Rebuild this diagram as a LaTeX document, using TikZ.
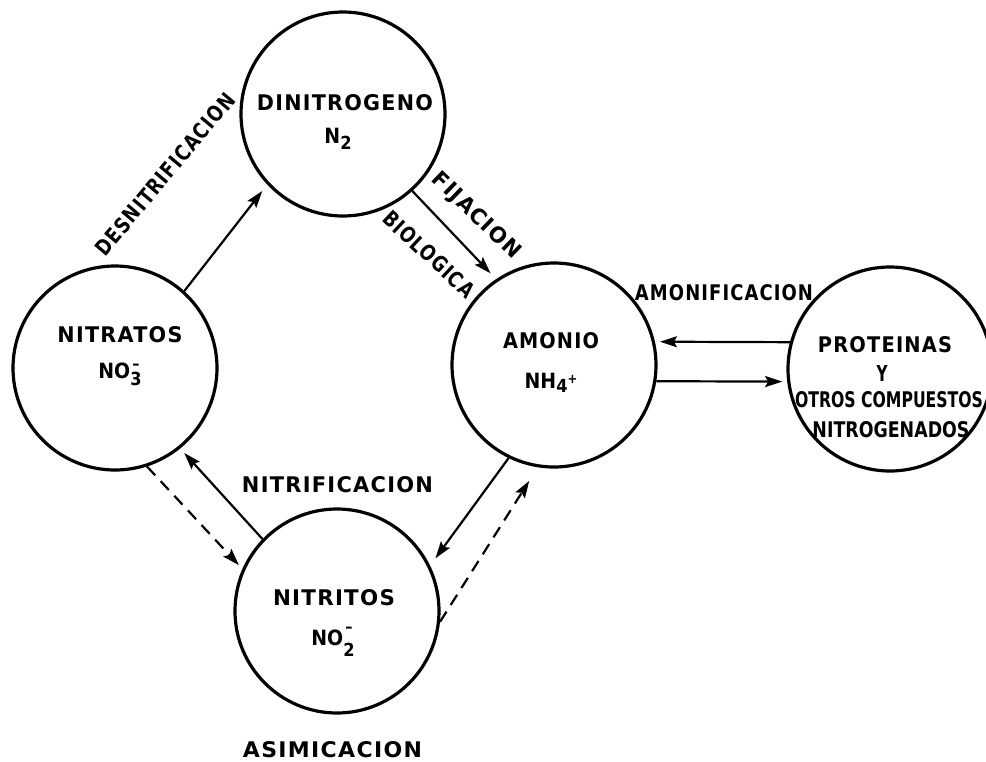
\documentclass[tikz,border=0pt]{standalone}
\usepackage{fontspec}
\setmainfont{DejaVu Sans}
\newfontfamily\lblfont[LetterSpace=6]{DejaVu Sans}
\newfontfamily\chemfont{DejaVu Sans Condensed}
\usetikzlibrary{arrows.meta}
\newcommand\lab[2]{\resizebox{#1pt}{16pt}{\lblfont\bfseries #2}}
\newcommand\labc[2]{\resizebox{#1pt}{16pt}{\bfseries #2}}
\newcommand\chem{\chemfont\bfseries\fontsize{21}{21}\selectfont}
\newsavebox\chbox
% #1 subscript, #2 mark above it, #3 lowering of subscript, #4 raise of mark
\newcommand\subover[4]{\sbox\chbox{\fontsize{18}{18}\selectfont #1}%
  \rlap{\makebox[\wd\chbox][c]{\raisebox{#4}{\fontsize{16}{16}\selectfont #2}}}%
  \raisebox{#3}{\usebox\chbox}}
\begin{document}
\begin{tikzpicture}[x=1pt,y=-1pt,
  stage/.style={circle,draw,line width=3.2pt,minimum size=204pt,inner sep=0pt},
  flow/.style={line width=2.2pt,-{Stealth[length=17pt,width=11pt,inset=3pt]}},
  dflow/.style={flow,dash pattern=on 12pt off 8pt},
  txt/.style={inner sep=0pt},
  frm/.style={inner sep=0pt,anchor=base}]
\useasboundingbox (0,0) rectangle (986,761);

% circles
\node[stage] (dinitro)   at (343,114) {};
\node[stage] (nitratos)  at (115,368) {};
\node[stage] (amonio)    at (554,365) {};
\node[stage] (proteinas) at (890,369) {};
\node[stage] (nitritos)  at (337,611) {};

% texts inside circles
\node[txt] (tdin) at (345,102.5) {\lab{176}{DINITROGENO}};
\node[frm] (fdin) at (338,143) {\chem N\raisebox{-6pt}{\fontsize{18}{18}\selectfont 2}};
\node[txt] (tnra) at (120,335) {\lab{125}{NITRATOS}};
\node[frm] (fnra) at (120,378) {\chem NO\subover{3}{–}{-7pt}{9pt}};
\node[txt] (tamo) at (551,341) {\lab{96}{AMONIO}};
\node[frm] (famo) at (551,388) {\chem NH\raisebox{-4pt}{\fontsize{18}{18}\selectfont 4}\raisebox{5pt}{\fontsize{13}{13}\selectfont +}};
\node[txt] (tnri) at (334,598) {\lab{122}{NITRITOS}};
\node[frm] (fnri) at (333,645) {\chem NO\subover{2}{–}{-11pt}{13pt}};
\node[txt] (tpr1) at (885,345) {\lab{134}{PROTEINAS}};
\node[txt] (tpr2) at (882,373) {\labc{11}{Y}};
\node[txt] (tpr3) at (889,400) {\labc{188}{OTROS COMPUESTOS}};
\node[txt] (tpr4) at (891,430) {\labc{157}{NITROGENADOS}};

% process labels
\node[txt,rotate=50]  (ldes) at (165,174) {\lab{204}{DESNITRIFICACION}};
\node[txt,rotate=-44] (lfij) at (476,216) {\lab{114}{FIJACION}};
\node[txt,rotate=-43] (lbio) at (429,254) {\lab{116}{BIOLOGICA}};
\node[txt] (lamo) at (724,293) {\lab{178}{AMONIFICACION}};
\node[txt] (lnit) at (337.5,485) {\lab{191}{NITRIFICACION}};
\node[txt] (lasi) at (332.5,750) {\lab{179}{ASIMICACION}};

% connectors
\draw[flow,shorten >=8pt] (nitratos.48) -- (dinitro.223);
\draw[flow,shorten >=8pt] (dinitro.-48) -- (amonio.124);
\draw[flow,shorten >=5pt] (proteinas.165) -- (amonio.13);
\draw[flow,shorten >=5pt] (amonio.-9) -- (proteinas.187);
\draw[flow,shorten >=6pt] (nitritos.136) -- (nitratos.-51);
\draw[dflow,shorten >=5pt] (nitratos.-72) -- (nitritos.156);
\draw[flow,shorten >=9pt] (amonio.244) -- (nitritos.26);
\draw[dflow,shorten >=16pt] (nitritos.-6) -- (amonio.261);
\end{tikzpicture}
\end{document}
